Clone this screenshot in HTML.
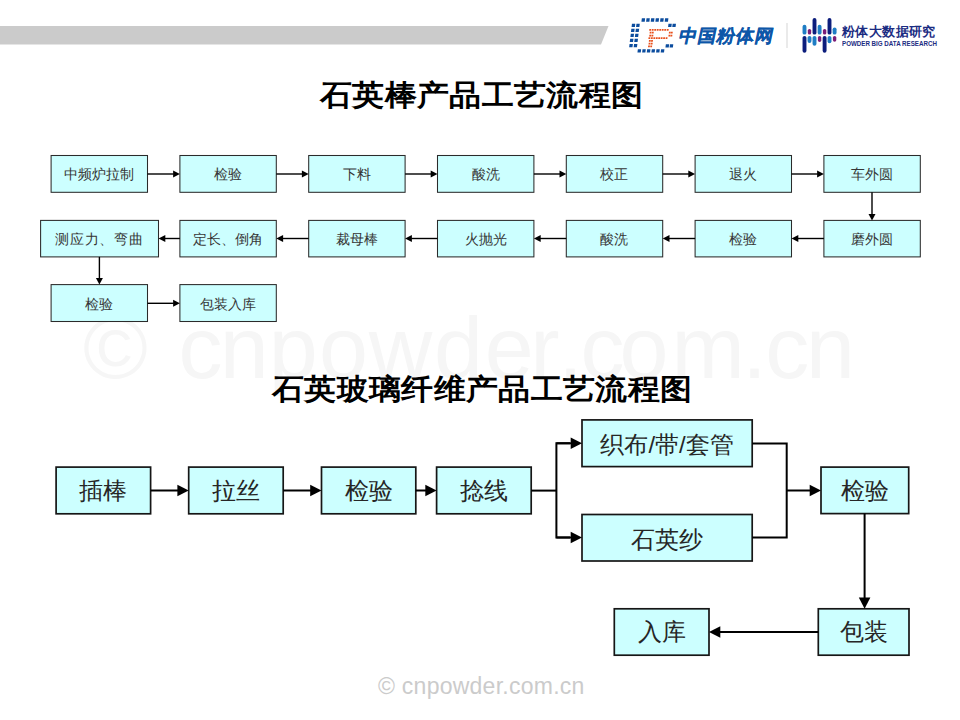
<!DOCTYPE html>
<html><head><meta charset="utf-8">
<style>
html,body{margin:0;padding:0;}
body{width:960px;height:720px;position:relative;overflow:hidden;background:#fff;font-family:"Liberation Sans",sans-serif;}
.a{position:absolute;}
.tx{position:absolute;color:#1e1e1e;display:flex;align-items:center;justify-content:center;white-space:nowrap;line-height:1;}
.t{position:absolute;font-size:29px;letter-spacing:0.4px;transform:scaleX(1.1);transform-origin:0 0;font-weight:bold;color:#000;white-space:nowrap;line-height:1;}
</style></head><body>
<svg class="a" style="left:0;top:0" width="960" height="720">
<polygon points="0,26 608.5,26 601,44.6 0,44.6" fill="#cbcbcb"/>
</svg>
<div class="a" style="left:0;top:304px;font-size:88px;color:#f6f6f6;white-space:nowrap;line-height:1"><span style="position:absolute;left:83px;top:0">©</span><span style="position:absolute;left:178.5px;top:0">c</span><span style="position:absolute;left:219.7px;top:0">n</span><span style="position:absolute;left:268.7px;top:0">p</span><span style="position:absolute;left:319px;top:0">o</span><span style="position:absolute;left:368.75px;top:0">w</span><span style="position:absolute;left:434px;top:0">d</span><span style="position:absolute;left:484.75px;top:0">e</span><span style="position:absolute;left:530.25px;top:0">r</span><span style="position:absolute;left:558.25px;top:0">.</span><span style="position:absolute;left:580.4px;top:0">c</span><span style="position:absolute;left:619.5px;top:0">o</span><span style="position:absolute;left:671.5px;top:0">m</span><span style="position:absolute;left:742.3px;top:0">.</span><span style="position:absolute;left:765.3px;top:0">c</span><span style="position:absolute;left:805.9px;top:0">n</span></div>
<div class="t" style="left:320px;top:81px">石英棒产品工艺流程图</div>
<div class="t" style="left:272px;top:375px">石英玻璃纤维产品工艺流程图</div>
<svg class="a" style="left:0;top:0" width="960" height="720">
<rect x="51.10" y="155.50" width="96.40" height="36.80" fill="#ccffff" stroke="#2b2b2b" stroke-width="1.05"/>
<rect x="179.90" y="155.50" width="96.40" height="36.80" fill="#ccffff" stroke="#2b2b2b" stroke-width="1.05"/>
<rect x="308.70" y="155.50" width="96.40" height="36.80" fill="#ccffff" stroke="#2b2b2b" stroke-width="1.05"/>
<rect x="437.50" y="155.50" width="96.40" height="36.80" fill="#ccffff" stroke="#2b2b2b" stroke-width="1.05"/>
<rect x="566.30" y="155.50" width="96.40" height="36.80" fill="#ccffff" stroke="#2b2b2b" stroke-width="1.05"/>
<rect x="695.10" y="155.50" width="96.40" height="36.80" fill="#ccffff" stroke="#2b2b2b" stroke-width="1.05"/>
<rect x="823.90" y="155.50" width="96.40" height="36.80" fill="#ccffff" stroke="#2b2b2b" stroke-width="1.05"/>
<rect x="179.90" y="220.40" width="96.40" height="36.50" fill="#ccffff" stroke="#2b2b2b" stroke-width="1.05"/>
<rect x="308.70" y="220.40" width="96.40" height="36.50" fill="#ccffff" stroke="#2b2b2b" stroke-width="1.05"/>
<rect x="437.50" y="220.40" width="96.40" height="36.50" fill="#ccffff" stroke="#2b2b2b" stroke-width="1.05"/>
<rect x="566.30" y="220.40" width="96.40" height="36.50" fill="#ccffff" stroke="#2b2b2b" stroke-width="1.05"/>
<rect x="695.10" y="220.40" width="96.40" height="36.50" fill="#ccffff" stroke="#2b2b2b" stroke-width="1.05"/>
<rect x="823.90" y="220.40" width="96.40" height="36.50" fill="#ccffff" stroke="#2b2b2b" stroke-width="1.05"/>
<rect x="40.60" y="220.40" width="117.90" height="36.50" fill="#ccffff" stroke="#2b2b2b" stroke-width="1.05"/>
<rect x="51.10" y="284.60" width="96.40" height="36.90" fill="#ccffff" stroke="#2b2b2b" stroke-width="1.05"/>
<rect x="179.90" y="284.60" width="96.40" height="36.90" fill="#ccffff" stroke="#2b2b2b" stroke-width="1.05"/>
<rect x="56.10" y="467.10" width="94.50" height="46.70" fill="#ccffff" stroke="#161616" stroke-width="1.70"/>
<rect x="188.70" y="467.10" width="94.50" height="46.70" fill="#ccffff" stroke="#161616" stroke-width="1.70"/>
<rect x="321.50" y="467.10" width="94.30" height="46.70" fill="#ccffff" stroke="#161616" stroke-width="1.70"/>
<rect x="436.60" y="467.10" width="94.60" height="46.70" fill="#ccffff" stroke="#161616" stroke-width="1.70"/>
<rect x="582.00" y="419.90" width="170.20" height="46.70" fill="#ccffff" stroke="#161616" stroke-width="1.70"/>
<rect x="582.00" y="514.50" width="170.20" height="46.50" fill="#ccffff" stroke="#161616" stroke-width="1.70"/>
<rect x="821.00" y="467.10" width="87.70" height="46.50" fill="#ccffff" stroke="#161616" stroke-width="1.70"/>
<rect x="818.30" y="608.80" width="90.70" height="46.40" fill="#ccffff" stroke="#161616" stroke-width="1.70"/>
<rect x="614.30" y="608.80" width="94.70" height="46.40" fill="#ccffff" stroke="#161616" stroke-width="1.70"/>
<g stroke="#000" stroke-width="1.4" fill="none">
<line x1="147.50" y1="174.00" x2="173.78" y2="174.00"/>
<line x1="276.30" y1="174.00" x2="302.58" y2="174.00"/>
<line x1="405.10" y1="174.00" x2="431.38" y2="174.00"/>
<line x1="533.90" y1="174.00" x2="560.18" y2="174.00"/>
<line x1="662.70" y1="174.00" x2="688.98" y2="174.00"/>
<line x1="791.50" y1="174.00" x2="817.78" y2="174.00"/>
<line x1="872.00" y1="192.30" x2="872.00" y2="214.55"/>
<line x1="823.90" y1="238.50" x2="797.62" y2="238.50"/>
<line x1="695.10" y1="238.50" x2="668.82" y2="238.50"/>
<line x1="566.30" y1="238.50" x2="540.02" y2="238.50"/>
<line x1="437.50" y1="238.50" x2="411.22" y2="238.50"/>
<line x1="308.70" y1="238.50" x2="282.42" y2="238.50"/>
<line x1="179.90" y1="238.50" x2="164.62" y2="238.50"/>
<line x1="99.40" y1="256.90" x2="99.40" y2="278.75"/>
<line x1="147.50" y1="303.30" x2="173.78" y2="303.30"/>
</g><g fill="#000">
<polygon points="173.10,170.50 179.90,174.00 173.10,177.50"/>
<polygon points="301.90,170.50 308.70,174.00 301.90,177.50"/>
<polygon points="430.70,170.50 437.50,174.00 430.70,177.50"/>
<polygon points="559.50,170.50 566.30,174.00 559.50,177.50"/>
<polygon points="688.30,170.50 695.10,174.00 688.30,177.50"/>
<polygon points="817.10,170.50 823.90,174.00 817.10,177.50"/>
<polygon points="868.50,213.90 872.00,220.40 875.50,213.90"/>
<polygon points="798.30,235.00 791.50,238.50 798.30,242.00"/>
<polygon points="669.50,235.00 662.70,238.50 669.50,242.00"/>
<polygon points="540.70,235.00 533.90,238.50 540.70,242.00"/>
<polygon points="411.90,235.00 405.10,238.50 411.90,242.00"/>
<polygon points="283.10,235.00 276.30,238.50 283.10,242.00"/>
<polygon points="165.30,235.00 158.50,238.50 165.30,242.00"/>
<polygon points="95.90,278.10 99.40,284.60 102.90,278.10"/>
<polygon points="173.10,299.80 179.90,303.30 173.10,306.80"/>
</g><g stroke="#000" stroke-width="2" fill="none" stroke-linejoin="miter">
<line x1="150.60" y1="490.50" x2="178.53" y2="490.50"/>
<line x1="283.20" y1="490.50" x2="311.33" y2="490.50"/>
<line x1="415.80" y1="490.50" x2="426.43" y2="490.50"/>
<line x1="531.20" y1="490.60" x2="556.40" y2="490.60"/>
<line x1="556.40" y1="443.30" x2="571.83" y2="443.30"/>
<line x1="556.40" y1="537.50" x2="571.83" y2="537.50"/>
<line x1="786.70" y1="490.50" x2="810.83" y2="490.50"/>
<line x1="864.60" y1="513.60" x2="864.60" y2="598.63"/>
<line x1="818.30" y1="632.00" x2="719.17" y2="632.00"/>
<polyline points="570,443.3 556.4,443.3 556.4,537.5 570,537.5"/>
<polyline points="752.2,443.4 786.7,443.4 786.7,537.5 752.2,537.5"/>
</g><g fill="#000">
<polygon points="177.40,484.70 188.70,490.50 177.40,496.30"/>
<polygon points="310.20,484.70 321.50,490.50 310.20,496.30"/>
<polygon points="425.30,484.70 436.60,490.50 425.30,496.30"/>
<polygon points="570.70,437.50 582.00,443.30 570.70,449.10"/>
<polygon points="570.70,531.70 582.00,537.50 570.70,543.30"/>
<polygon points="809.70,484.70 821.00,490.50 809.70,496.30"/>
<polygon points="858.80,597.50 864.60,608.80 870.40,597.50"/>
<polygon points="720.30,626.20 709.00,632.00 720.30,637.80"/>
</g>
<polygon points="641.85,18.35 645.15,18.35 644.75,21.65 641.45,21.65" fill="#0b4c9e"/>
<polygon points="646.50,18.35 649.80,18.35 649.40,21.65 646.10,21.65" fill="#0b4c9e"/>
<polygon points="651.15,18.35 654.45,18.35 654.05,21.65 650.75,21.65" fill="#0b4c9e"/>
<polygon points="655.80,18.35 659.10,18.35 658.70,21.65 655.40,21.65" fill="#0b4c9e"/>
<polygon points="660.45,18.35 663.75,18.35 663.35,21.65 660.05,21.65" fill="#0b4c9e"/>
<polygon points="665.10,18.35 668.40,18.35 668.00,21.65 664.70,21.65" fill="#0b4c9e"/>
<polygon points="637.85,49.15 641.15,49.15 640.75,52.45 637.45,52.45" fill="#0b4c9e"/>
<polygon points="642.50,49.15 645.80,49.15 645.40,52.45 642.10,52.45" fill="#0b4c9e"/>
<polygon points="647.15,49.15 650.45,49.15 650.05,52.45 646.75,52.45" fill="#0b4c9e"/>
<polygon points="651.80,49.15 655.10,49.15 654.70,52.45 651.40,52.45" fill="#0b4c9e"/>
<polygon points="656.45,49.15 659.75,49.15 659.35,52.45 656.05,52.45" fill="#0b4c9e"/>
<polygon points="661.10,49.15 664.40,49.15 664.00,52.45 660.70,52.45" fill="#0b4c9e"/>
<polygon points="631.95,23.65 635.25,23.65 634.85,26.95 631.55,26.95" fill="#0b4c9e"/>
<polygon points="636.45,23.65 639.75,23.65 639.35,26.95 636.05,26.95" fill="#0b4c9e"/>
<polygon points="631.35,28.65 634.65,28.65 634.25,31.95 630.95,31.95" fill="#0b4c9e"/>
<polygon points="635.85,28.65 639.15,28.65 638.75,31.95 635.45,31.95" fill="#0b4c9e"/>
<polygon points="630.75,33.65 634.05,33.65 633.65,36.95 630.35,36.95" fill="#0b4c9e"/>
<polygon points="635.25,33.65 638.55,33.65 638.15,36.95 634.85,36.95" fill="#0b4c9e"/>
<polygon points="630.15,38.65 633.45,38.65 633.05,41.95 629.75,41.95" fill="#0b4c9e"/>
<polygon points="634.65,38.65 637.95,38.65 637.55,41.95 634.25,41.95" fill="#0b4c9e"/>
<polygon points="629.55,43.95 632.85,43.95 632.45,47.25 629.15,47.25" fill="#0b4c9e"/>
<polygon points="634.05,43.95 637.35,43.95 636.95,47.25 633.65,47.25" fill="#0b4c9e"/>
<polygon points="668.45,23.65 671.75,23.65 671.35,26.95 668.05,26.95" fill="#0b4c9e"/>
<polygon points="672.65,23.65 675.95,23.65 675.55,26.95 672.25,26.95" fill="#0b4c9e"/>
<polygon points="665.85,44.15 669.15,44.15 668.75,47.45 665.45,47.45" fill="#0b4c9e"/>
<polygon points="669.95,44.15 673.25,44.15 672.85,47.45 669.55,47.45" fill="#0b4c9e"/>
<polygon points="649.39,29.00 651.19,29.00 651.01,30.80 649.21,30.80" fill="#e8501c"/>
<polygon points="651.89,29.00 653.69,29.00 653.51,30.80 651.71,30.80" fill="#e8501c"/>
<polygon points="654.39,29.00 656.19,29.00 656.01,30.80 654.21,30.80" fill="#e8501c"/>
<polygon points="656.89,29.00 658.69,29.00 658.51,30.80 656.71,30.80" fill="#e8501c"/>
<polygon points="659.39,29.00 661.19,29.00 661.01,30.80 659.21,30.80" fill="#e8501c"/>
<polygon points="661.89,29.00 663.69,29.00 663.51,30.80 661.71,30.80" fill="#e8501c"/>
<polygon points="664.39,29.00 666.19,29.00 666.01,30.80 664.21,30.80" fill="#e8501c"/>
<polygon points="666.89,29.00 668.69,29.00 668.51,30.80 666.71,30.80" fill="#e8501c"/>
<polygon points="648.59,37.20 650.39,37.20 650.21,39.00 648.41,39.00" fill="#e8501c"/>
<polygon points="651.04,37.20 652.84,37.20 652.66,39.00 650.86,39.00" fill="#e8501c"/>
<polygon points="653.49,37.20 655.29,37.20 655.11,39.00 653.31,39.00" fill="#e8501c"/>
<polygon points="655.94,37.20 657.74,37.20 657.56,39.00 655.76,39.00" fill="#e8501c"/>
<polygon points="658.39,37.20 660.19,37.20 660.01,39.00 658.21,39.00" fill="#e8501c"/>
<polygon points="660.84,37.20 662.64,37.20 662.46,39.00 660.66,39.00" fill="#e8501c"/>
<polygon points="663.29,37.20 665.09,37.20 664.91,39.00 663.11,39.00" fill="#e8501c"/>
<polygon points="665.74,37.20 667.54,37.20 667.36,39.00 665.56,39.00" fill="#e8501c"/>
<polygon points="649.79,31.70 651.59,31.70 651.41,33.50 649.61,33.50" fill="#e8501c"/>
<polygon points="651.99,31.70 653.79,31.70 653.61,33.50 651.81,33.50" fill="#e8501c"/>
<polygon points="649.39,34.70 651.19,34.70 651.01,36.50 649.21,36.50" fill="#e8501c"/>
<polygon points="651.59,34.70 653.39,34.70 653.21,36.50 651.41,36.50" fill="#e8501c"/>
<polygon points="648.99,40.00 650.79,40.00 650.61,41.80 648.81,41.80" fill="#e8501c"/>
<polygon points="651.19,40.00 652.99,40.00 652.81,41.80 651.01,41.80" fill="#e8501c"/>
<polygon points="648.69,42.70 650.49,42.70 650.31,44.50 648.51,44.50" fill="#e8501c"/>
<polygon points="650.89,42.70 652.69,42.70 652.51,44.50 650.71,44.50" fill="#e8501c"/>
<polygon points="648.19,45.50 649.99,45.50 649.81,47.30 648.01,47.30" fill="#e8501c"/>
<polygon points="650.39,45.50 652.19,45.50 652.01,47.30 650.21,47.30" fill="#e8501c"/>
<polygon points="668.99,31.70 670.79,31.70 670.61,33.50 668.81,33.50" fill="#e8501c"/>
<polygon points="670.99,31.70 672.79,31.70 672.61,33.50 670.81,33.50" fill="#e8501c"/>
<polygon points="668.59,34.70 670.39,34.70 670.21,36.50 668.41,36.50" fill="#e8501c"/>
<polygon points="670.59,34.70 672.39,34.70 672.21,36.50 670.41,36.50" fill="#e8501c"/>
<rect x="802.55" y="24.80" width="3.90" height="9.80" rx="1.95" fill="#1f7dc4"/>
<rect x="802.55" y="35.90" width="3.90" height="16.90" rx="1.95" fill="#0c1d7c"/>
<rect x="807.80" y="28.90" width="3.40" height="5.70" rx="1.70" fill="#7b1d78"/>
<rect x="807.55" y="35.90" width="3.90" height="7.00" rx="1.95" fill="#1f7dc4"/>
<rect x="812.55" y="18.10" width="3.90" height="16.50" rx="1.95" fill="#0c1d7c"/>
<rect x="812.55" y="35.90" width="3.90" height="9.90" rx="1.95" fill="#1f7dc4"/>
<rect x="817.65" y="24.80" width="3.90" height="9.80" rx="1.95" fill="#1f7dc4"/>
<rect x="817.90" y="35.90" width="3.40" height="6.10" rx="1.70" fill="#7b1d78"/>
<rect x="822.90" y="28.90" width="3.40" height="5.70" rx="1.70" fill="#7b1d78"/>
<rect x="822.65" y="35.90" width="3.90" height="16.90" rx="1.95" fill="#0c1d7c"/>
<rect x="827.55" y="18.10" width="3.90" height="16.50" rx="1.95" fill="#0c1d7c"/>
<rect x="827.55" y="35.90" width="3.90" height="7.30" rx="1.95" fill="#1f7dc4"/>
<rect x="832.65" y="27.40" width="3.90" height="7.20" rx="1.95" fill="#1f7dc4"/>
<rect x="832.90" y="35.90" width="3.40" height="5.80" rx="1.70" fill="#7b1d78"/>
<rect x="786.5" y="23" width="1" height="25" fill="#d6d6d6"/>
</svg>
<div class="tx" style="left:51.10px;top:156.10px;width:96.40px;height:36.80px;font-size:14px;color:#363636">中频炉拉制</div>
<div class="tx" style="left:179.90px;top:156.10px;width:96.40px;height:36.80px;font-size:14px;color:#363636">检验</div>
<div class="tx" style="left:308.70px;top:156.10px;width:96.40px;height:36.80px;font-size:14px;color:#363636">下料</div>
<div class="tx" style="left:437.50px;top:156.10px;width:96.40px;height:36.80px;font-size:14px;color:#363636">酸洗</div>
<div class="tx" style="left:566.30px;top:156.10px;width:96.40px;height:36.80px;font-size:14px;color:#363636">校正</div>
<div class="tx" style="left:695.10px;top:156.10px;width:96.40px;height:36.80px;font-size:14px;color:#363636">退火</div>
<div class="tx" style="left:823.90px;top:156.10px;width:96.40px;height:36.80px;font-size:14px;color:#363636">车外圆</div>
<div class="tx" style="left:179.90px;top:221.00px;width:96.40px;height:36.50px;font-size:14px;color:#363636">定长、倒角</div>
<div class="tx" style="left:308.70px;top:221.00px;width:96.40px;height:36.50px;font-size:14px;color:#363636">裁母棒</div>
<div class="tx" style="left:437.50px;top:221.00px;width:96.40px;height:36.50px;font-size:14px;color:#363636">火抛光</div>
<div class="tx" style="left:566.30px;top:221.00px;width:96.40px;height:36.50px;font-size:14px;color:#363636">酸洗</div>
<div class="tx" style="left:695.10px;top:221.00px;width:96.40px;height:36.50px;font-size:14px;color:#363636">检验</div>
<div class="tx" style="left:823.90px;top:221.00px;width:96.40px;height:36.50px;font-size:14px;color:#363636">磨外圆</div>
<div class="tx" style="left:40.10px;top:221.00px;width:117.90px;height:36.50px;font-size:14px;color:#363636"><span style="letter-spacing:0.9px;margin-right:-0.9px">测应力、弯曲</span></div>
<div class="tx" style="left:51.10px;top:285.20px;width:96.40px;height:36.90px;font-size:14px;color:#363636">检验</div>
<div class="tx" style="left:179.90px;top:285.20px;width:96.40px;height:36.90px;font-size:14px;color:#363636">包装入库</div>
<div class="tx" style="left:56.10px;top:467.40px;width:94.50px;height:46.70px;font-size:24px;color:#262626">插棒</div>
<div class="tx" style="left:188.70px;top:467.40px;width:94.50px;height:46.70px;font-size:24px;color:#262626">拉丝</div>
<div class="tx" style="left:321.50px;top:467.40px;width:94.30px;height:46.70px;font-size:24px;color:#262626">检验</div>
<div class="tx" style="left:436.60px;top:467.40px;width:94.60px;height:46.70px;font-size:24px;color:#262626">捻线</div>
<div class="tx" style="left:582.00px;top:421.50px;width:170.20px;height:46.70px;font-size:24px;color:#262626">织布/带/套管</div>
<div class="tx" style="left:582.00px;top:516.50px;width:170.20px;height:46.50px;font-size:24px;color:#262626">石英纱</div>
<div class="tx" style="left:821.00px;top:467.40px;width:87.70px;height:46.50px;font-size:24px;color:#262626">检验</div>
<div class="tx" style="left:818.30px;top:609.10px;width:90.70px;height:46.40px;font-size:24px;color:#262626">包装</div>
<div class="tx" style="left:614.30px;top:609.10px;width:94.70px;height:46.40px;font-size:24px;color:#262626">入库</div>
<div class="a" style="left:676.5px;top:27px;font-size:18px;letter-spacing:1.2px;-webkit-text-stroke:0.25px #0d56a8;font-weight:bold;color:#0d56a8;white-space:nowrap;line-height:1;transform:skewX(-12deg);transform-origin:0 100%">中国粉体网</div>
<div class="a" style="left:842px;top:24.5px;font-size:13px;letter-spacing:0.4px;font-weight:bold;color:#1b2c82;white-space:nowrap;line-height:1">粉体大数据研究</div>
<div class="a" style="left:842px;top:40px;font-size:7px;font-weight:bold;color:#1b2c82;white-space:nowrap;line-height:1;letter-spacing:0px;transform:scaleX(0.885);transform-origin:0 0">POWDER BIG DATA RESEARCH</div>
<div class="a" style="left:378px;top:674.5px;font-size:23px;letter-spacing:0.25px;color:#cbcbcb;white-space:nowrap;line-height:1">© cnpowder.com.cn</div>
</body></html>
